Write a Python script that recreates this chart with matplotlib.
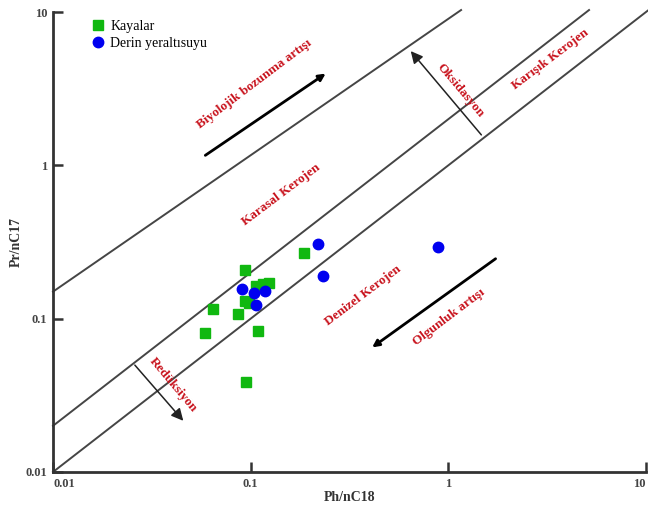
import matplotlib.pyplot as plt
from matplotlib.ticker import FixedLocator, FixedFormatter

plt.rcParams['font.family'] = ['Liberation Serif', 'DejaVu Serif']

# Veri: Ph/nC18 ve Pr/nC17
kaya_ph = [0.187, 0.0935, 0.107, 0.116, 0.124, 0.0935, 0.098, 0.0643, 0.0859, 0.0588, 0.109, 0.0944]
kaya_pr = [0.267, 0.208, 0.163, 0.168, 0.172, 0.130, 0.126, 0.116, 0.107, 0.0804, 0.0835, 0.0385]

su_ph = [0.220, 0.233, 0.0908, 0.104, 0.118, 0.106, 0.883]
su_pr = [0.307, 0.191, 0.157, 0.148, 0.152, 0.123, 0.295]

# sinir cizgileri
cizgi_x = [[0.01, 10.2], [0.01, 5.15], [0.01, 1.16]]
cizgi_y = [[0.01, 10.2], [0.02, 10.3], [0.15, 10.3]]

tick_vals = [0.01, 0.1, 1, 10]
tick_labels = ['0.01', '0.1', '1', '10']

fig = plt.figure(figsize=(6.48, 5.13), dpi=100)
ax = fig.add_axes([53 / 648, 1 - 472 / 513, 593 / 648, 460 / 513])
ax.set_xscale('log')
ax.set_yscale('log')
ax.set_xlim(0.01, 10)
ax.set_ylim(0.01, 10)

for xs, ys in zip(cizgi_x, cizgi_y):
    ax.plot(xs, ys, color='#454545', lw=1.4, clip_on=False, zorder=1)

ax.plot(kaya_ph, kaya_pr, 's', color='#10b810', markersize=6.5, ls='none',
        label='Kayalar', zorder=3)
ax.plot(su_ph, su_pr, 'o', color='#0000f0', markersize=7.5, ls='none',
        label='Derin yeraltısuyu', zorder=3)

# oklar
kalin = dict(arrowstyle='-|>', color='black', lw=2, mutation_scale=10)
ince = dict(arrowstyle='-|>', color='#222222', lw=1.1, mutation_scale=18)
ax.annotate('', xy=(0.246, 4.06), xytext=(0.0574, 1.135), arrowprops=kalin)
ax.annotate('', xy=(0.401, 0.0634), xytext=(1.78, 0.252), arrowprops=kalin)
ax.annotate('', xy=(0.632, 5.74), xytext=(1.50, 1.53), arrowprops=ince)
ax.annotate('', xy=(0.0466, 0.0209), xytext=(0.0254, 0.0514), arrowprops=ince)

# yazilar
yazi = dict(color='#c8121c', fontweight='bold', fontsize=9.5, ha='center',
            va='center', rotation_mode='anchor')
ax.text(0.105, 3.40, 'Biyolojik bozunma artışı', rotation=37, **yazi)
ax.text(0.142, 0.641, 'Karasal Kerojen', rotation=37, **yazi)
ax.text(1.15, 3.06, 'Oksidasyon', rotation=-50, **yazi)
ax.text(3.30, 4.94, 'Karışık Kerojen', rotation=37, **yazi)
ax.text(0.370, 0.141, 'Denizel Kerojen', rotation=37, **yazi)
ax.text(1.01, 0.1026, 'Olgunluk artışı', rotation=37, **yazi)
ax.text(0.0405, 0.0369, 'Redüksiyon', rotation=-50, **yazi)

# eksenler
for s in ['top', 'right']:
    ax.spines[s].set_visible(False)
for s in ['left', 'bottom']:
    ax.spines[s].set_linewidth(2)
    ax.spines[s].set_color('#333333')

for axis in [ax.xaxis, ax.yaxis]:
    axis.set_major_locator(FixedLocator(tick_vals))
    axis.set_major_formatter(FixedFormatter(tick_labels))
    axis.set_minor_locator(FixedLocator([]))
ax.tick_params(direction='in', length=7, width=1.8, color='#333333',
               labelsize=9, labelcolor='#444444', pad=4)
for lab in ax.get_xticklabels() + ax.get_yticklabels():
    lab.set_fontweight('bold')
ax.get_xticklabels()[0].set_horizontalalignment('left')
ax.get_xticklabels()[-1].set_horizontalalignment('right')

ax.set_xlabel('Ph/nC18', fontsize=10, fontweight='bold', color='#333333', labelpad=1)
ax.set_ylabel('Pr/nC17', fontsize=10, fontweight='bold', color='#333333', labelpad=2)

ax.legend(loc='upper left', bbox_to_anchor=(0.057, 0.995), frameon=False,
          fontsize=10, handlelength=0.8, handletextpad=0.5, labelspacing=0.3,
          borderaxespad=0)

fig.savefig('out.png', dpi=100)
